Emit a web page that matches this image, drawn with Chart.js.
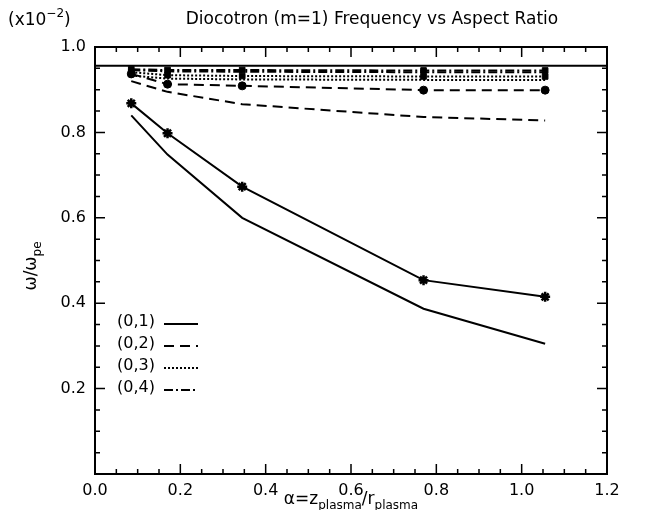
<!DOCTYPE html>
<html>
<head>
<meta charset="utf-8">
<script src="https://cdn.jsdelivr.net/npm/chart.js@4.4.0/dist/chart.umd.min.js"></script>
<style>
  html, body { margin: 0; padding: 0; background: #fff; }
</style>
</head>
<body>
<canvas id="c" width="652" height="510"></canvas>
<script>
// aspect ratio alpha = z_plasma / r_plasma
const alphaVals = [0.085, 0.17, 0.345, 0.77, 1.055];

// (0,1) mode: theory (no marks) and measured (stars)
const m01Theory = [0.840, 0.748, 0.600, 0.387, 0.305];
const m01Meas   = [0.868, 0.798, 0.673, 0.454, 0.415];
// (0,2)
const m02Theory = [0.920, 0.895, 0.866, 0.836, 0.828];
const m02Meas   = [0.937, 0.913, 0.909, 0.899, 0.899];
// (0,3)
const m03Theory = [0.933, 0.926, 0.924, 0.923, 0.923];
const m03Meas   = [0.941, 0.934, 0.932, 0.931, 0.931];
// (0,4)
const m04Theory = [0.946, 0.943, 0.942, 0.941, 0.941];
const m04Meas   = [0.948, 0.946, 0.946, 0.945, 0.945];

// upper limit line
const limitX = [0, 1.2];
const limitY = [0.956, 0.956];

const legendLabels = ['(0,1)', '(0,2)', '(0,3)', '(0,4)'];
const dashSolid = [], dashDash = [10, 6], dashDot = [2, 2], dashDashDot = [9, 3, 2, 3];
const legendDashes = [dashSolid, dashDash, dashDot, dashDashDot];

const FONT = '"DejaVu Sans", sans-serif';

function pts(xs, ys) { return xs.map((x, i) => ({ x, y: ys[i] })); }

function serie(label, ys, dash, marker) {
  return {
    label,
    data: pts(alphaVals, ys),
    showLine: true,
    borderColor: '#000',
    backgroundColor: '#000',
    borderWidth: 2,
    borderDash: dash,
    pointStyle: marker || 'circle',
    pointRadius: marker ? (marker === 'star' ? 5 : 4) : 0,
    pointBorderWidth: marker === 'star' ? 2.5 : 1,
    tension: 0,
    fill: false
  };
}

// escreve texto com partes em subscrito/sobrescrito: [texto, tamanho, deslocamento]
function textoMisto(ctx, partes, x, y, alinhar) {
  let total = 0;
  partes.forEach(p => { ctx.font = p[1] + 'px ' + FONT; total += ctx.measureText(p[0]).width; });
  let cx = alinhar === 'center' ? x - total / 2 : x;
  ctx.textAlign = 'left';
  partes.forEach(p => {
    ctx.font = p[1] + 'px ' + FONT;
    ctx.fillText(p[0], cx, y + p[2]);
    cx += ctx.measureText(p[0]).width;
  });
}

// moldura, ticks internos, titulos e legenda
const decoracao = {
  id: 'decoracao',
  afterDraw(chart) {
    const { ctx, chartArea: a, scales: { x, y } } = chart;
    ctx.save();
    ctx.strokeStyle = '#000';
    ctx.lineWidth = 2;
    ctx.setLineDash([]);
    ctx.strokeRect(a.left, a.top, a.right - a.left, a.bottom - a.top);

    ctx.lineWidth = 1.5;
    for (let i = 0; i <= 24; i++) {
      const px = x.getPixelForValue(i * 0.05);
      const len = i % 4 === 0 ? 10 : 5;
      ctx.beginPath();
      ctx.moveTo(px, a.bottom); ctx.lineTo(px, a.bottom - len);
      ctx.moveTo(px, a.top); ctx.lineTo(px, a.top + len);
      ctx.stroke();
    }
    for (let i = 0; i <= 20; i++) {
      const py = y.getPixelForValue(i * 0.05);
      const len = i % 4 === 0 ? 10 : 5;
      ctx.beginPath();
      ctx.moveTo(a.left, py); ctx.lineTo(a.left + len, py);
      ctx.moveTo(a.right, py); ctx.lineTo(a.right - len, py);
      ctx.stroke();
    }

    ctx.fillStyle = '#000';
    ctx.textBaseline = 'alphabetic';

    // titulo
    ctx.font = '17px ' + FONT;
    ctx.textAlign = 'center';
    ctx.fillText('Diocotron (m=1) Frequency vs Aspect Ratio', 372, 24);

    // fator de escala
    textoMisto(ctx, [['(x10', 17, 0], ['\u22122', 12, -8], [')', 17, 0]], 8, 25, 'left');

    // titulo eixo x
    textoMisto(ctx, [['\u03b1=z', 17, 0], ['plasma', 12, 5], ['/r', 17, 0], ['plasma', 12, 5]], 351, 504, 'center');

    // titulo eixo y (rotacionado)
    ctx.save();
    ctx.translate(36, 266);
    ctx.rotate(-Math.PI / 2);
    textoMisto(ctx, [['\u03c9/\u03c9', 17, 0], ['pe', 12, 5]], 0, 0, 'center');
    ctx.restore();

    // legenda
    legendLabels.forEach((lab, i) => {
      const ly = 324 + i * 22;
      ctx.font = '16px ' + FONT;
      ctx.textAlign = 'left';
      ctx.textBaseline = 'middle';
      ctx.fillText(lab, 117, ly - 2);
      ctx.lineWidth = 2;
      ctx.setLineDash(legendDashes[i]);
      ctx.beginPath();
      ctx.moveTo(164, ly);
      ctx.lineTo(198, ly);
      ctx.stroke();
    });
    ctx.restore();
  }
};

new Chart(document.getElementById('c'), {
  type: 'scatter',
  data: {
    datasets: [
      serie('(0,1)', m01Theory, dashSolid),
      serie('(0,1) med', m01Meas, dashSolid, 'star'),
      serie('(0,2)', m02Theory, dashDash),
      serie('(0,2) med', m02Meas, dashDash, 'circle'),
      serie('(0,3)', m03Theory, dashDot),
      serie('(0,3) med', m03Meas, dashDot, 'rect'),
      serie('(0,4)', m04Theory, dashDashDot),
      serie('(0,4) med', m04Meas, dashDashDot, 'rect'),
      {
        label: 'limite',
        data: pts(limitX, limitY),
        showLine: true,
        borderColor: '#000',
        borderWidth: 2,
        pointRadius: 0
      }
    ]
  },
  options: {
    responsive: false,
    animation: false,
    devicePixelRatio: 1,
    layout: { padding: { top: 47, right: 45, left: 0, bottom: 0 } },
    plugins: { legend: { display: false }, tooltip: { enabled: false } },
    scales: {
      x: {
        type: 'linear', min: 0, max: 1.2,
        afterFit: s => { s.height = 36; },
        grid: { display: false, drawTicks: false },
        border: { display: false },
        ticks: { stepSize: 0.2, padding: 7, color: '#000', font: { family: FONT, size: 16 },
          callback: v => v.toFixed(1) }
      },
      y: {
        type: 'linear', min: 0, max: 1.0,
        afterFit: s => { s.width = 95; },
        grid: { display: false, drawTicks: false },
        border: { display: false },
        ticks: { stepSize: 0.2, padding: 9, color: '#000', font: { family: FONT, size: 16 },
          callback: v => v === 0 ? '' : v.toFixed(1) }
      }
    }
  },
  plugins: [decoracao]
});
</script>
</body>
</html>
